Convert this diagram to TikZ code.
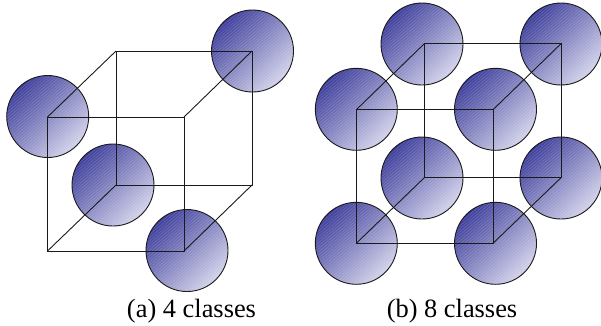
\documentclass[tikz,border=0pt]{standalone}
\usepackage{fontspec}
\setmainfont{Liberation Serif}
\definecolor{balldark}{HTML}{20208C}
\definecolor{balllight}{HTML}{DCDCF0}
\definecolor{inkline}{HTML}{1A1A1A}
\pgfdeclareverticalshading{ballshade}{100bp}{
  color(0bp)=(balllight); color(22bp)=(balllight);
  color(84bp)=(balldark); color(100bp)=(balldark)}
\tikzset{
  cubeline/.style={draw=inkline,line width=0.9pt},
  ballrim/.style={draw=inkline,line width=0.9pt},
  caption/.style={inner sep=0pt,anchor=base,font=\fontsize{26.4}{26.4}\selectfont},
  pics/ball/.style={code={
    \shade[shading=ballshade,shading angle=45] (0,0) circle[radius=41];
    \begin{scope}
      \clip (0,0) circle[radius=41];
      \foreach \d in {-60,-56.4,...,60}{
        \draw[white,opacity=0.14,line width=0.9pt]
          ($(\d,0)+(-50,42)$) -- ($(\d,0)+(50,-42)$);
      }
    \end{scope}
    \draw[ballrim] (0,0) circle[radius=41];
  }}
}
\usetikzlibrary{calc}
\begin{document}
\begin{tikzpicture}[x=1pt,y=-1pt]
\useasboundingbox (0,0) rectangle (601,325);
% balls (a)
\foreach \x/\y in {47.7/116.5,113/185,252.5/51,187/250.5}{
  \pic at (\x,\y) {ball};
}
% balls (b)
\foreach \x/\y in {356.3/109.3,422/44,495.5/109.3,561/44,422/178,561/178,356.3/243.3,495.5/243.3}{
  \pic at (\x,\y) {ball};
}
% cube (a)
\coordinate (af1) at (47.5,117);  \coordinate (af2) at (184,117);
\coordinate (af3) at (184,251);   \coordinate (af4) at (47.5,251);
\coordinate (ab1) at (116,51);    \coordinate (ab2) at (252,51);
\coordinate (ab3) at (252,185);   \coordinate (ab4) at (116,185);
\draw[cubeline] (af1) -- (af2) -- (af3) -- (af4) -- cycle;
\draw[cubeline] (ab1) -- (ab2) -- (ab3) -- (ab4) -- cycle;
\draw[cubeline] (af1) -- (ab1) (af2) -- (ab2) (af3) -- (ab3) (af4) -- (ab4);
% cube (b)
\coordinate (bf1) at (356.3,109.7); \coordinate (bf2) at (493,109.7);
\coordinate (bf3) at (493,243.3);   \coordinate (bf4) at (356.3,243.3);
\coordinate (bb1) at (424.3,43.7);  \coordinate (bb2) at (561,43.7);
\coordinate (bb3) at (561,177.7);   \coordinate (bb4) at (424.3,177.7);
\draw[cubeline] (bf1) -- (bf2) -- (bf3) -- (bf4) -- cycle;
\draw[cubeline] (bb1) -- (bb2) -- (bb3) -- (bb4) -- cycle;
\draw[cubeline] (bf1) -- (bb1) (bf2) -- (bb2) (bf3) -- (bb3) (bf4) -- (bb4);
% captions
\node[caption] (capa) at (191.5,317.5) {(a) 4 classes};
\node[caption] (capb) at (452,317.5) {(b) 8 classes};
\end{tikzpicture}
\end{document}
